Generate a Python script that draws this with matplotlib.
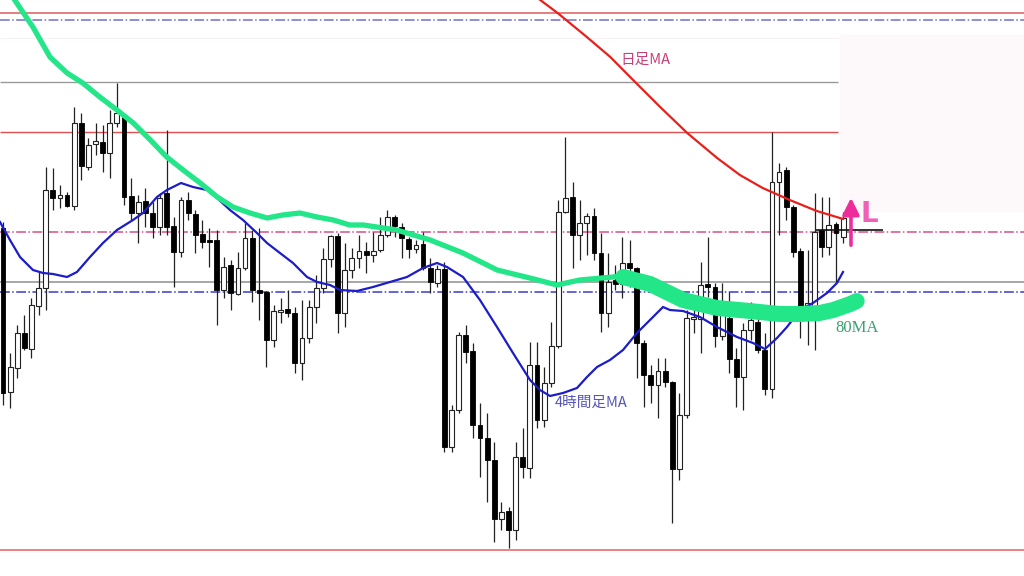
import matplotlib
matplotlib.use("Agg")
import matplotlib.pyplot as plt
import numpy as np

plt.rcParams['font.family'] = ['Noto Sans CJK JP', 'DejaVu Sans']

# ---- Candle data (chart price units, axis inverted: smaller = higher) ----
opens = [228, 392, 368, 333, 349, 306, 288, 190, 198, 195, 206, 123, 167, 144, 142, 153, 123, 117, 196, 213,
         201, 213, 227, 193, 226, 252, 200, 214, 234, 240, 240, 290, 265, 294, 268, 238, 290, 292, 340, 311,
         309, 313, 363, 338, 307, 288, 259, 236, 313, 270, 258, 251, 255, 250, 235, 217, 227, 239, 249, 244,
         268, 283, 269, 447, 410, 335, 351, 425, 438, 460, 519, 511, 530, 457, 468, 365, 420, 383, 346, 212,
         197, 235, 223, 216, 253, 313, 280, 284, 263, 268, 343, 375, 385, 371, 382, 469, 415, 319, 319, 284,
         287, 336, 318, 359, 377, 330, 322, 350, 389, 182, 170, 207, 251, 307, 307, 230, 247, 224, 237]
highs = [222, 353, 325, 315, 298, 272, 167, 168, 185, 192, 107, 113, 138, 123, 125, 110, 83, 115, 178, 195,
         188, 202, 193, 130, 217, 197, 192, 210, 220, 228, 230, 257, 260, 252, 223, 230, 228, 291, 305, 298,
         290, 307, 300, 300, 275, 248, 235, 233, 243, 248, 235, 242, 232, 217, 210, 215, 223, 237, 240, 232,
         258, 265, 262, 405, 332, 325, 343, 403, 413, 442, 502, 507, 442, 428, 342, 342, 367, 322, 200, 137,
         182, 200, 213, 208, 233, 253, 265, 237, 240, 267, 340, 365, 358, 358, 381, 393, 310, 302, 262, 237,
         283, 283, 292, 348, 323, 302, 310, 333, 132, 163, 167, 205, 248, 250, 193, 197, 197, 222, 212]
lows = [405, 408, 378, 350, 358, 315, 310, 210, 208, 207, 210, 180, 170, 155, 172, 178, 127, 205, 220, 243,
        227, 238, 235, 235, 287, 257, 220, 253, 248, 267, 325, 298, 310, 295, 270, 302, 320, 367, 347, 323,
        317, 373, 380, 343, 323, 293, 267, 333, 327, 278, 268, 273, 262, 252, 237, 237, 258, 258, 253, 270,
        293, 287, 452, 452, 413, 363, 438, 477, 502, 542, 530, 548, 540, 478, 478, 428, 427, 387, 348, 213,
        268, 260, 255, 260, 332, 327, 290, 298, 287, 378, 407, 403, 418, 387, 523, 480, 418, 333, 353, 297,
        347, 340, 373, 407, 410, 340, 353, 395, 398, 235, 220, 257, 338, 345, 350, 257, 255, 282, 243]
closes = [393, 367, 333, 348, 305, 288, 190, 198, 195, 206, 123, 166, 145, 141, 153, 123, 113, 197, 213, 202,
          213, 227, 198, 227, 252, 200, 213, 235, 242, 241, 290, 267, 293, 268, 238, 290, 293, 340, 311, 310,
          313, 363, 338, 307, 288, 259, 236, 313, 270, 258, 251, 255, 251, 235, 217, 226, 238, 249, 245, 268,
          282, 269, 447, 410, 335, 352, 425, 438, 460, 519, 512, 530, 457, 467, 365, 420, 383, 346, 212, 198,
          235, 223, 216, 253, 313, 282, 284, 263, 268, 343, 375, 385, 371, 382, 469, 415, 318, 317, 285, 287,
          336, 305, 359, 377, 330, 320, 350, 389, 182, 172, 207, 252, 308, 303, 232, 247, 225, 233, 218]

# ---- Moving averages (bar position, level) ----
green_x = [0.7, 4.2, 6.6, 9.0, 11.2, 13.6, 16.0, 18.3, 20.7, 23.0, 25.3, 27.7, 30.1, 32.3, 34.7, 37.1,
           39.3, 41.7, 44.1, 46.4, 48.7, 50.6, 55.3, 60.0, 64.6, 69.4, 74.0, 77.8, 81.0, 85.7, 87.1]
green_y = [-10, 27, 57, 73, 83, 97, 110, 123, 140, 157, 170, 183, 197, 207, 213, 218,
           215, 213, 217, 220, 225, 225, 230, 240, 253, 270, 278, 285, 280, 277, 275]

mark_x = [87.1, 90.9, 95.5, 100.3, 104.9, 109.1, 111.9, 114.7, 116.6, 119.0, 119.9]
mark_y = [277, 284, 300, 308, 311, 314, 314, 313, 310, 304, 301]

blue_x = [-0.42, 0.98, 2.39, 4.21, 5.62, 7.02, 8.99, 10.39, 12.22, 14.04, 16.01, 18.26, 19.66, 21.63,
          23.03, 25.00, 26.69, 28.65, 30.06, 31.88, 33.71, 35.67, 37.08, 38.90, 40.73, 42.70, 44.10,
          45.93, 47.33, 49.72, 51.97, 54.35, 56.74, 58.99, 60.96, 62.36, 64.61, 66.99, 69.38, 71.63,
          74.02, 75.42, 76.83, 78.65, 80.62, 82.02, 83.43, 85.25, 87.08, 89.04, 90.87, 92.70, 93.68,
          95.51, 97.89, 100.28, 103.09, 105.34, 107.02, 108.71, 110.11, 111.94, 113.76, 115.73,
          117.13, 117.98]
blue_y = [222, 240, 257, 270, 273, 274, 277, 272, 257, 243, 230, 220, 213, 197, 190, 183, 187, 190,
          198, 210, 220, 233, 243, 253, 263, 277, 282, 285, 290, 291, 287, 282, 277, 268, 263, 267,
          277, 300, 327, 353, 380, 390, 396, 393, 388, 377, 367, 360, 350, 333, 320, 307, 310, 311,
          317, 327, 337, 343, 349, 338, 327, 310, 303, 293, 283, 272]

red_x = [74.7, 77.9, 82.0, 85.3, 88.5, 92.3, 96.1, 100.3, 103.5, 106.7, 110.5, 114.3, 118.0]
red_y = [-4, 13, 37, 57, 80, 107, 133, 158, 175, 188, 200, 211, 219]

# ---- Horizontal levels ----
full_levels = [13, 20, 232, 282, 292, 550]
full_colors = ['#e05a5a', '#7070d0', '#d4508a', '#909090', '#3a3ad0', '#e06060']
full_styles = ['-', '-.', '-.', '-', '-.', '-']
short_levels = [82, 132]
short_colors = ['#9a9a9a', '#e05050']

entry_level = 230

fig = plt.figure(figsize=(10.24, 5.76), dpi=100)
ax = fig.add_axes([0, 0, 1, 1])
n = len(opens)
xs = np.arange(n)
x_left, x_right = -0.42, 143.4
ax.set_xlim(x_left, x_right)
ax.set_ylim(576, 0)
ax.axis('off')

# faint panel on the right
ax.fill_between([117.6, x_right], 35, 212, color='#fdf9fb', zorder=0, lw=0)
ax.hlines(38, x_left, 117.6, color='#f5f1f4', lw=0.8, zorder=0.5)

for lv, c, s in zip(full_levels, full_colors, full_styles):
    ax.hlines(lv, x_left, x_right, colors=c, linestyles=s, lw=1.1, zorder=1)
for lv, c in zip(short_levels, short_colors):
    ax.hlines(lv, x_left, 117.3, colors=c, lw=1.0, zorder=1)

# candles
o = np.array(opens); c = np.array(closes)
h = np.array(highs); l = np.array(lows)
ax.vlines(xs, h, l, colors='#222222', lw=0.9, zorder=2)
bottoms = np.minimum(o, c)
heights = np.maximum(np.abs(o - c), 1.5)
bull = c < o
ax.bar(xs[bull], heights[bull], bottom=bottoms[bull], width=0.68, color='white',
       edgecolor='#222222', linewidth=0.8, zorder=2.5)
ax.bar(xs[~bull], heights[~bull], bottom=bottoms[~bull], width=0.68, color='black',
       edgecolor='black', linewidth=0.6, zorder=2.5)

# moving averages
ax.plot(red_x, red_y, color='#e8201c', lw=1.6, zorder=3)
ax.plot(blue_x, blue_y, color='#1c1cc8', lw=1.6, zorder=3.2)
ax.plot(green_x, green_y, color='#22e688', lw=3.8, zorder=3.4, solid_capstyle='round')
ax.plot(mark_x, mark_y, color='#22e688', lw=11.5, zorder=3.5, solid_capstyle='round',
        solid_joinstyle='round')

# entry line, arrow, label
ax.hlines(entry_level, 114.2, 123.6, colors='#111111', lw=1.2, zorder=3)
ax.annotate('', xy=(119.1, 195), xytext=(119.1, 248),
            arrowprops=dict(arrowstyle='-|>,head_width=0.5,head_length=1.0',
                            color='#ee2d9a', lw=2.6), zorder=5)
ax.text(120.5, 214, 'L', color='#f060b8', fontsize=20, fontweight='bold',
        family=['DejaVu Sans'], ha='left', va='center', zorder=5)

ax.text(82.6, 403, '4時間足MA', color='#5555b8', fontsize=10.5, ha='center', va='center', zorder=5)
ax.text(90.2, 60, '日足MA', color='#c84075', fontsize=10.5, ha='center', va='center', zorder=5)
ax.text(120.0, 328, '80MA', color='#3aa070', fontsize=12, family=['Liberation Serif'],
        ha='center', va='center', zorder=5)

fig.savefig('out.png', dpi=100)
